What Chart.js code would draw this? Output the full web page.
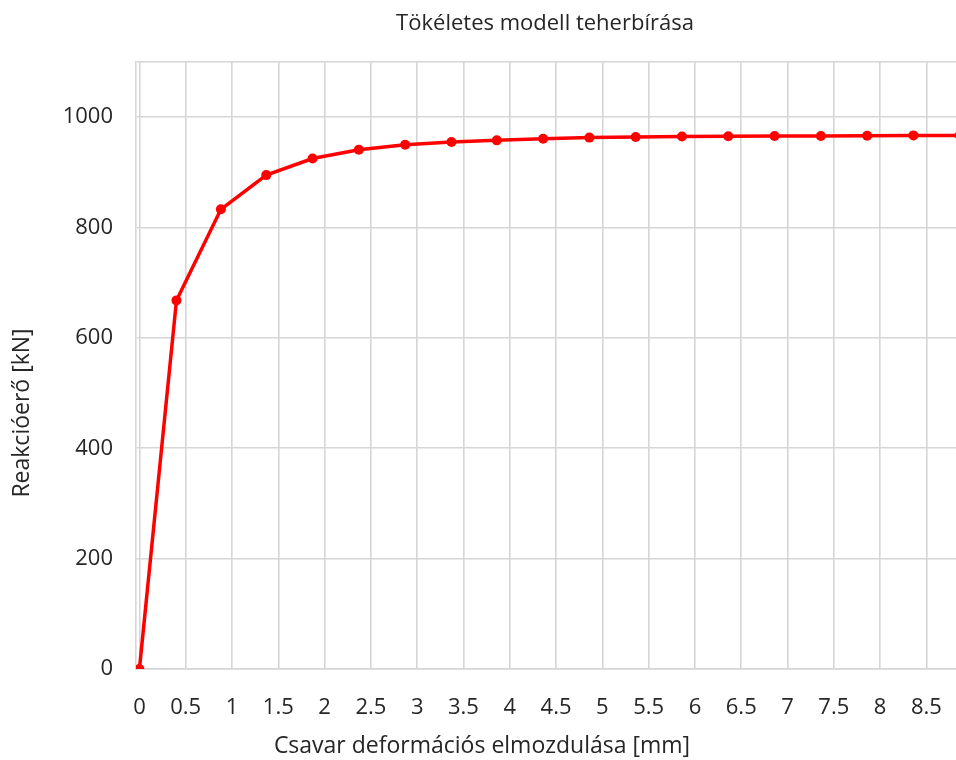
<!DOCTYPE html>
<html>
<head>
<meta charset="utf-8">
<title>Tökéletes modell teherbírása</title>
<script src="https://cdn.jsdelivr.net/npm/chart.js@4/dist/chart.umd.min.js"></script>
<style>
  html, body { margin: 0; padding: 0; background: #fff; overflow: hidden; }
  canvas { display: block; }
</style>
</head>
<body>
<canvas id="chart" width="1005" height="760"></canvas>
<script>
// Screw deformation displacement [mm]
const displacement = [0, 0.40, 0.88, 1.37, 1.87, 2.37, 2.87, 3.37, 3.86, 4.36, 4.86, 5.36, 5.86, 6.36, 6.86, 7.36, 7.86, 8.36, 8.86];
// Reaction force [kN]
const reaction = [0, 668, 833, 895, 925, 941, 950, 955, 958, 961, 963, 964, 965, 965.5, 966, 966, 966.5, 967, 967];

const xTicks = [0, 0.5, 1, 1.5, 2, 2.5, 3, 3.5, 4, 4.5, 5, 5.5, 6, 6.5, 7, 7.5, 8, 8.5, 9];
const yTicks = [0, 200, 400, 600, 800, 1000];
const yTop = 1100;

const chartTitle = 'Tökéletes modell teherbírása';
const xTitle = 'Csavar deformációs elmozdulása [mm]';
const yTitle = 'Reakcióerő [kN]';

const FONT = '"Open Sans", "Noto Sans", sans-serif';
const TEXT = '#262626';
const GRID = '#d6d6d6';

// Titles placed by hand around the plot
const captions = {
  id: 'captions',
  afterDraw(chart) {
    const { ctx } = chart;
    ctx.save();
    ctx.fillStyle = TEXT;
    ctx.textAlign = 'center';
    ctx.textBaseline = 'middle';
    ctx.font = '22px ' + FONT;
    ctx.fillText(chartTitle, 545, 24);
    ctx.font = '23px ' + FONT;
    ctx.fillText(xTitle, 482, 746);
    ctx.translate(22, 413);
    ctx.rotate(-Math.PI / 2);
    ctx.fillText(yTitle, 0, 0);
    ctx.restore();
  }
};

new Chart(document.getElementById('chart'), {
  type: 'line',
  data: {
    datasets: [{
      data: displacement.map((x, i) => ({ x, y: reaction[i] })),
      borderColor: '#ff0000',
      backgroundColor: '#ff0000',
      borderWidth: 3.5,
      pointRadius: 5,
      pointBorderWidth: 0,
      pointBackgroundColor: '#ff0000',
      tension: 0,
      fill: false
    }]
  },
  options: {
    responsive: false,
    devicePixelRatio: 1,
    animation: false,
    layout: { padding: { top: 62, right: 0, bottom: 0, left: 0 } },
    plugins: { legend: { display: false }, title: { display: false }, tooltip: { enabled: false } },
    scales: {
      x: {
        type: 'linear',
        min: -0.037,
        max: 9,
        afterBuildTicks(scale) { scale.ticks = xTicks.map(v => ({ value: v })); },
        afterFit(scale) { scale.height = 91; },
        grid: { color: GRID, lineWidth: 1.6, drawTicks: false },
        border: { display: true, color: GRID, width: 1.6 },
        ticks: {
          padding: 26,
          maxRotation: 0,
          autoSkip: false,
          color: TEXT,
          font: { family: FONT, size: 22 },
          callback: v => String(v)
        }
      },
      y: {
        type: 'linear',
        min: 0,
        max: yTop,
        afterBuildTicks(scale) { scale.ticks = yTicks.concat([yTop]).map(v => ({ value: v })); },
        afterFit(scale) { scale.width = 136; },
        grid: { color: GRID, lineWidth: 1.6, drawTicks: false },
        border: { display: true, color: GRID, width: 1.6 },
        ticks: {
          padding: 23,
          color: TEXT,
          font: { family: FONT, size: 22 },
          callback: v => (v === yTop ? '' : String(v))
        }
      }
    }
  },
  plugins: [captions]
});
</script>
</body>
</html>
